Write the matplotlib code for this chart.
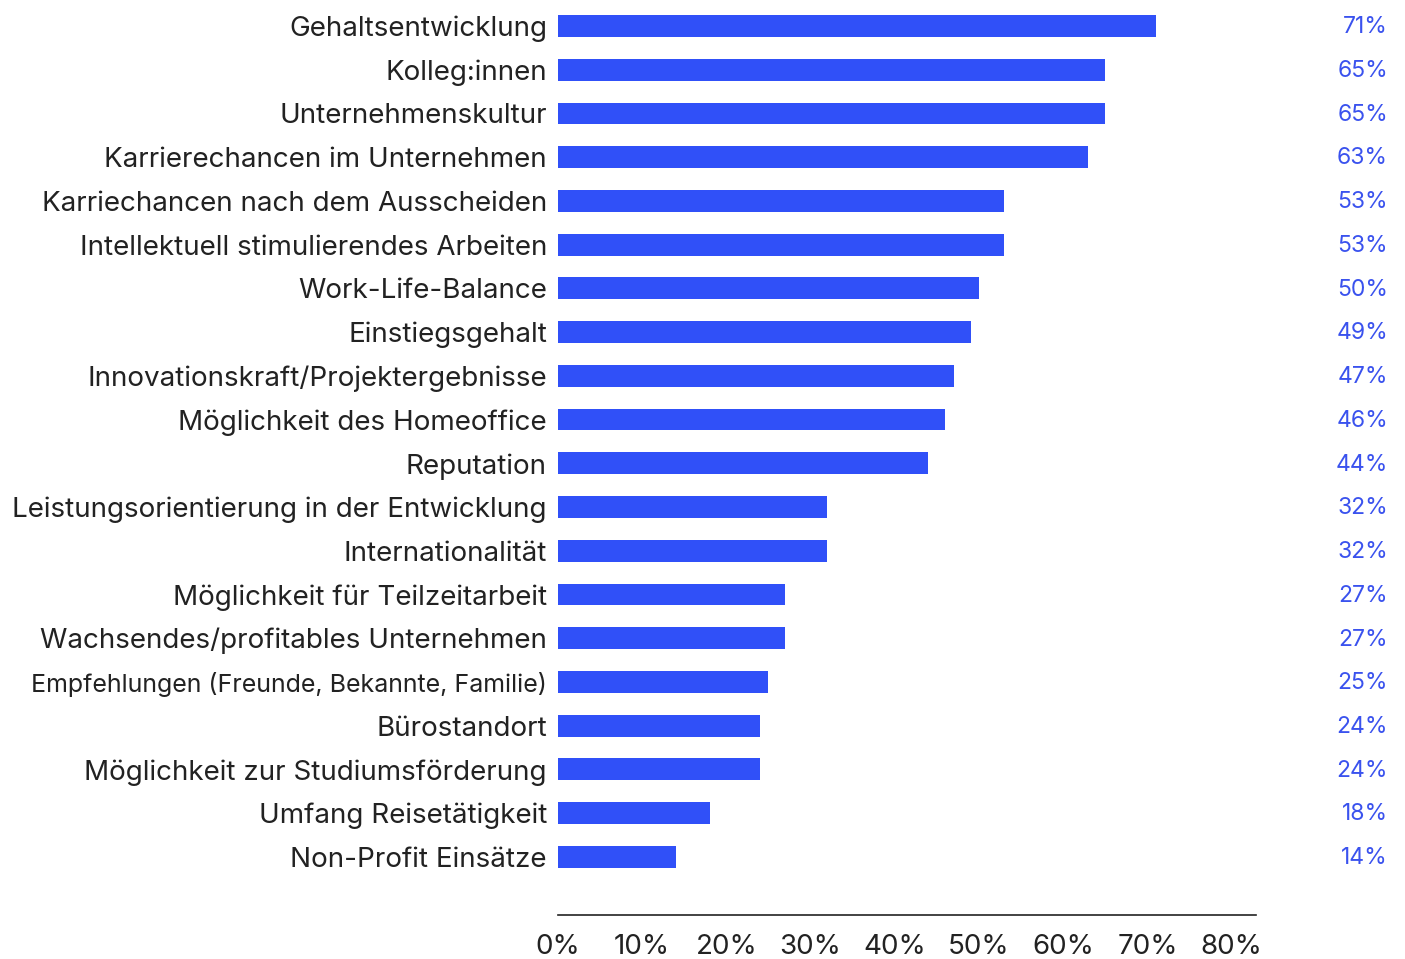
import matplotlib.pyplot as plt
import matplotlib.transforms as mtrans
from matplotlib.ticker import FuncFormatter

plt.rcParams['font.family'] = ['Inter', 'DejaVu Sans']

labels = ["Gehaltsentwicklung", "Kolleg:innen", "Unternehmenskultur",
          "Karrierechancen im Unternehmen", "Karriechancen nach dem Ausscheiden",
          "Intellektuell stimulierendes Arbeiten", "Work-Life-Balance",
          "Einstiegsgehalt", "Innovationskraft/Projektergebnisse",
          "Möglichkeit des Homeoffice", "Reputation",
          "Leistungsorientierung in der Entwicklung", "Internationalität",
          "Möglichkeit für Teilzeitarbeit", "Wachsendes/profitables Unternehmen",
          "Empfehlungen (Freunde, Bekannte, Familie)", "Bürostandort",
          "Möglichkeit zur Studiumsförderung", "Umfang Reisetätigkeit",
          "Non-Profit Einsätze"]
values = [71, 65, 65, 63, 53, 53, 50, 49, 47, 46, 44, 32, 32, 27, 27, 25, 24, 24, 18, 14]
xticks = [0, 10, 20, 30, 40, 50, 60, 70, 80]

bar_col = '#3050f8'
val_col = '#3a52ee'
txt_col = '#222222'

fig = plt.figure(figsize=(14.05, 9.59), dpi=100)
ax = fig.add_axes([558/1405, 1-915/959, (1256-558)/1405, 915/959])

ypos = list(range(len(labels)))
ax.barh(ypos, values, height=0.5, color=bar_col)
ax.set_xlim(0, 82.9)
ax.set_ylim(20.33, -0.594)

ax.set_yticks(ypos)
ax.set_yticklabels(labels, fontsize=20, color=txt_col)
for t, lab in zip(ax.get_yticklabels(), labels):
    if lab.startswith("Empfehlungen"):
        t.set_fontsize(18)
ax.tick_params(axis='y', length=0, pad=8)

ax.set_xticks(xticks)
ax.xaxis.set_major_formatter(FuncFormatter(lambda v, p: f"{int(v)}%"))
ax.tick_params(axis='x', length=0, labelsize=20, labelcolor=txt_col, pad=14)

for s in ['top', 'right', 'left']:
    ax.spines[s].set_visible(False)
ax.spines['bottom'].set_color(txt_col)
ax.spines['bottom'].set_linewidth(1.2)

# value labels sit outside the axes, right-aligned in figure coords
tr = mtrans.blended_transform_factory(fig.transFigure, ax.transData)
for y, v in zip(ypos, values):
    ax.text(1388/1405, y + 0.03, f"{v}%", transform=tr, ha='right', va='center',
            fontsize=16.5, color=val_col, clip_on=False)

fig.savefig('out.png', dpi=100)
